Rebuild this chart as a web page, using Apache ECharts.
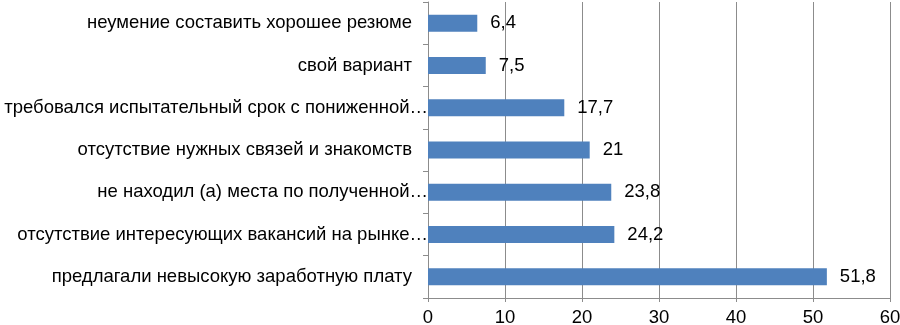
<!DOCTYPE html>
<html><head><meta charset="utf-8">
<script src="https://cdn.jsdelivr.net/npm/echarts@6/dist/echarts.min.js"></script>
<style>html,body{margin:0;padding:0;background:#fff}#c{width:900px;height:325px}</style>
</head><body><div id="c"></div>
<script>
const categories = [
  "предлагали невысокую заработную плату",
  "отсутствие интересующих вакансий на рынке…",
  "не находил (а) места по полученной…",
  "отсутствие нужных связей и знакомств",
  "требовался испытательный срок с пониженной…",
  "свой вариант",
  "неумение составить хорошее резюме"
];
const values = [51.8, 24.2, 23.8, 21, 17.7, 7.5, 6.4];
const xTicks = [0, 10, 20, 30, 40, 50, 60];

const chart = echarts.init(document.getElementById('c'), null, {renderer: 'canvas'});
chart.setOption({
  animation: false,
  textStyle: {fontFamily: 'Liberation Sans, Arial, sans-serif'},
  grid: {left: 428, right: 10, top: 2, bottom: 27, containLabel: false, outerBoundsMode: 'none'},
  xAxis: {
    type: 'value', min: xTicks[0], max: xTicks[xTicks.length - 1], interval: 10,
    axisLine: {show: true, lineStyle: {color: '#8c8c8c', width: 1}},
    axisTick: {show: true, length: 4, lineStyle: {color: '#8c8c8c'}},
    splitLine: {show: true, lineStyle: {color: '#8c8c8c', width: 1}},
    axisLabel: {color: '#000', fontSize: 18.5, margin: 10, hideOverlap: false}
  },
  yAxis: {
    type: 'category', data: categories,
    axisLine: {show: true, lineStyle: {color: '#8c8c8c', width: 1}},
    axisTick: {show: true, length: 5, lineStyle: {color: '#8c8c8c'}},
    axisLabel: {
      color: '#000', fontSize: 18.5, margin: 0,
      formatter: v => v.endsWith('…') ? '{t|' + v + '}' : '{f|' + v + '}',
      rich: {
        t: {fontSize: 18.5, color: '#000', padding: [0, 0, 0, 0]},
        f: {fontSize: 18.5, color: '#000', padding: [0, 16, 0, 0]}
      }
    }
  },
  series: [{
    type: 'bar', data: values, barWidth: 17,
    itemStyle: {color: '#4F81BD'},
    label: {show: true, position: 'right', distance: 13, color: '#000', fontSize: 18.5,
      formatter: p => String(p.value).replace('.', ',')}
  }]
});
</script></body></html>
